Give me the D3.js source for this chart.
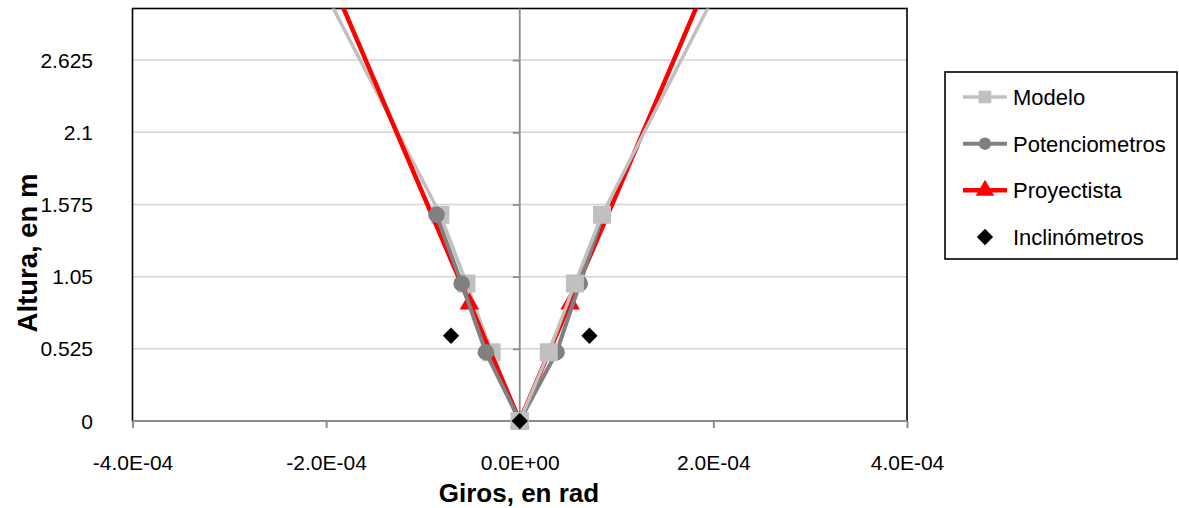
<!DOCTYPE html>
<html>
<head>
<meta charset="utf-8">
<script src="https://cdn.jsdelivr.net/npm/d3@7"></script>
<style>
  html, body { margin: 0; padding: 0; background: #fff; }
  svg { display: block; font-family: "Liberation Sans", Arial, sans-serif; }
</style>
</head>
<body>
<svg id="chart" width="1179" height="508"></svg>
<script>
// Rotations (rad) against height (m), left and right branches of each series
const modeloLeftX  = [-3.03e-4, -0.82e-4, -0.55e-4, -0.29e-4, 0];
const modeloLeftY  = [4.5, 1.5, 1.0, 0.5, 0];
const modeloRightX = [0, 0.30e-4, 0.57e-4, 0.85e-4, 3.03e-4];
const modeloRightY = [0, 0.5, 1.0, 1.5, 4.5];

const potLeftX  = [-0.86e-4, -0.60e-4, -0.35e-4, 0];
const potLeftY  = [1.5, 1.0, 0.5, 0];
const potRightX = [0, 0.38e-4, 0.62e-4, 0.86e-4];
const potRightY = [0, 0.5, 1.0, 1.5];

const proyX = [-2.73e-4, -0.52e-4, 0, 0.52e-4, 2.73e-4];
const proyY = [4.5, 0.86, 0, 0.86, 4.5];

const inclX = [-0.71e-4, 0, 0.72e-4];
const inclY = [0.62, 0, 0.62];

const xTicks = [-4e-4, -2e-4, 0, 2e-4, 4e-4];
const xTickLabels = ["-4.0E-04", "-2.0E-04", "0.0E+00", "2.0E-04", "4.0E-04"];
const yTicks = [0, 0.525, 1.05, 1.575, 2.1, 2.625];
const yTickLabels = ["0", "0.525", "1.05", "1.575", "2.1", "2.625"];

const legendNames = ["Modelo", "Potenciometros", "Proyectista", "Inclinómetros"];

const svg = d3.select("#chart");
const plot = { left: 132.5, right: 907, top: 8.5, bottom: 421 };

const x = d3.scaleLinear().domain([-4e-4, 4e-4]).range([plot.left, plot.right]);
const y = d3.scaleLinear().domain([0, 3.0]).range([plot.bottom, plot.top]);

const zip = (xs, ys) => xs.map((v, i) => [v, ys[i]]);
const line = d3.line().x(d => x(d[0])).y(d => y(d[1]));

svg.append("defs").append("clipPath").attr("id", "plotClip")
  .append("rect")
  .attr("x", plot.left).attr("y", plot.top)
  .attr("width", plot.right - plot.left).attr("height", plot.bottom - plot.top);

// Horizontal gridlines
svg.append("g").selectAll("line")
  .data(yTicks.filter(t => t > 0))
  .join("line")
  .attr("x1", plot.left).attr("x2", plot.right)
  .attr("y1", d => y(d)).attr("y2", d => y(d))
  .attr("stroke", "#d4d4d4").attr("stroke-width", 1.5);

// Plot area frame
svg.append("rect")
  .attr("x", plot.left).attr("y", plot.top)
  .attr("width", plot.right - plot.left).attr("height", plot.bottom - plot.top)
  .attr("fill", "none").attr("stroke", "#000").attr("stroke-width", 1.6);

// Vertical axis crossing at zero rotation, with ticks
const yAxisG = svg.append("g").attr("transform", `translate(${x(0)},0)`);
yAxisG.call(d3.axisLeft(y).tickValues(yTicks).tickSize(7).tickFormat(""));
yAxisG.select(".domain").attr("d", `M0,${plot.top}V${plot.bottom}`);
yAxisG.selectAll("path, line").attr("stroke", "#8c8c8c").attr("stroke-width", 1.8);

// Horizontal axis
const xAxisG = svg.append("g").attr("transform", `translate(0,${plot.bottom})`);
xAxisG.call(d3.axisBottom(x).tickValues(xTicks).tickSize(7)
  .tickFormat((d, i) => xTickLabels[i]));
xAxisG.select(".domain").attr("d", `M${plot.left},0H${plot.right}`);
xAxisG.selectAll("path, line").attr("stroke", "#8c8c8c").attr("stroke-width", 2);
xAxisG.selectAll("text")
  .attr("y", 0).attr("dy", null)
  .attr("transform", "translate(0,49)")
  .attr("font-size", 21).attr("fill", "#000")
  .attr("font-family", "Liberation Sans, Arial, sans-serif");

// Y tick labels at the left of the plot
svg.append("g").selectAll("text")
  .data(yTicks)
  .join("text")
  .attr("x", 93).attr("y", d => y(d))
  .attr("text-anchor", "end").attr("dy", "0.36em")
  .attr("font-size", 21).attr("fill", "#000")
  .text((d, i) => yTickLabels[i]);

// Axis titles
svg.append("text")
  .attr("x", 519).attr("y", 502)
  .attr("text-anchor", "middle")
  .attr("font-size", 26).attr("font-weight", "bold")
  .text("Giros, en rad");
svg.append("text")
  .attr("transform", "translate(37,253) rotate(-90)")
  .attr("text-anchor", "middle")
  .attr("font-size", 27.5).attr("font-weight", "bold")
  .text("Altura, en m");

// Marker shapes
const sym = {
  square:   d3.symbol().type(d3.symbolSquare).size(18 * 18),
  circle:   d3.symbol().type(d3.symbolCircle).size(Math.PI * 8.3 * 8.3),
  triangle: d3.symbol().type(d3.symbolTriangle).size(165),
  diamond:  d3.symbol().type(d3.symbolSquare).size(11.5 * 11.5)
};

const styles = {
  modelo: { color: "#c0c0c0", width: 3.5, marker: "square" },
  pot:    { color: "#808080", width: 4,   marker: "circle" },
  proy:   { color: "#ff0000", width: 4.5, marker: "triangle" },
  incl:   { color: "#000000", width: 0,   marker: "diamond" }
};

const series = svg.append("g");

function inPlot(d) {
  return d[1] >= 0 && d[1] <= 3.0 && d[0] >= -4e-4 && d[0] <= 4e-4;
}

function drawSeries(pts, st, withLine) {
  const g = series.append("g");
  if (withLine) {
    g.append("path").datum(pts)
      .attr("clip-path", "url(#plotClip)")
      .attr("d", line)
      .attr("fill", "none")
      .attr("stroke", st.color)
      .attr("stroke-width", st.width)
      .attr("stroke-linejoin", "round");
  }
  g.selectAll("path.m").data(pts.filter(inPlot)).join("path")
    .attr("class", "m")
    .attr("d", sym[st.marker])
    .attr("transform", d => {
      let t = `translate(${x(d[0])},${y(d[1])})`;
      if (st.marker === "diamond") t += " rotate(45)";
      if (st.marker === "triangle") t += " translate(0,1)";
      return t;
    })
    .attr("fill", st.color);
}

drawSeries(zip(modeloLeftX, modeloLeftY), styles.modelo, true);
drawSeries(zip(proyX, proyY), styles.proy, true);
drawSeries(zip(potLeftX, potLeftY), styles.pot, true);
drawSeries(zip(potRightX, potRightY), styles.pot, true);
drawSeries(zip(modeloRightX, modeloRightY), styles.modelo, true);
drawSeries(zip(inclX, inclY), styles.incl, false);

// Legend
const legend = svg.append("g");
legend.append("rect")
  .attr("x", 945).attr("y", 72).attr("width", 232).attr("height", 187)
  .attr("fill", "#fff").attr("stroke", "#000").attr("stroke-width", 1.6);

const legendStyles = [styles.modelo, styles.pot, styles.proy, styles.incl];
const legendMarkerScale = [0.7, 0.75, 0.95, 1.0];
const rowY = d3.scaleLinear().domain([0, 3]).range([97, 237]);

legendNames.forEach((name, i) => {
  const st = legendStyles[i];
  const cy = rowY(i);
  const row = legend.append("g");
  if (st.width > 0) {
    row.append("line")
      .attr("x1", 963).attr("x2", 1007).attr("y1", cy).attr("y2", cy)
      .attr("stroke", st.color).attr("stroke-width", st.width);
  }
  let t = `translate(985,${cy}) scale(${legendMarkerScale[i]})`;
  if (st.marker === "diamond") t += " rotate(45)";
  row.append("path")
    .attr("d", sym[st.marker])
    .attr("transform", t)
    .attr("fill", st.color);
  row.append("text")
    .attr("x", 1013).attr("y", cy).attr("dy", "0.36em")
    .attr("font-size", 22).attr("fill", "#000")
    .text(name);
});
</script>
</body>
</html>
